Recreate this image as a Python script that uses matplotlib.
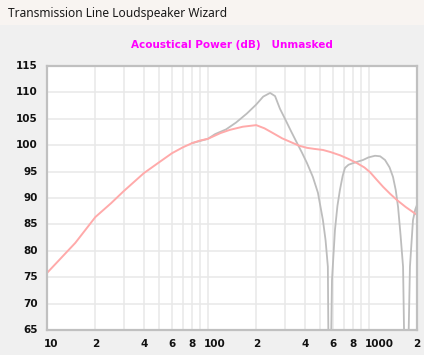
import matplotlib

matplotlib.use("Agg")
import matplotlib.pyplot as plt
import matplotlib.transforms as mtransforms
from matplotlib.patches import Rectangle

# Acoustical power (Hz, dB)
freq_total = [10, 15, 20, 25, 30, 40, 50, 60, 70, 80, 90, 100, 120, 137, 165,
              200, 225, 254, 290, 339, 370, 414, 460, 520, 580, 663, 750, 847,
              940, 1020, 1120, 1232, 1360, 1503, 1700, 2000]
spl_total = [75.8, 81.5, 86.4, 89.0, 91.3, 94.7, 96.8, 98.5, 99.6, 100.4, 100.9,
             101.2, 102.3, 102.9, 103.5, 103.8, 103.2, 102.3, 101.3, 100.4, 99.9,
             99.5, 99.3, 99.1, 98.7, 98.1, 97.4, 96.6, 95.8, 94.9, 93.5, 92.1,
             90.8, 89.6, 88.3, 86.8]

freq_line = [80, 100, 111, 130, 150, 175, 200, 221, 244, 262, 281, 302, 330,
             359, 385, 414, 450, 484, 520, 540, 558, 570, 592, 618, 640, 663,
             690, 713, 750, 800, 860, 923, 1000, 1097, 1180, 1265, 1350, 1418,
             1475, 1525, 1580, 1638, 1710, 1808, 1888, 1950, 2000]
spl_line = [100.4, 101.2, 102.1, 103.0, 104.3, 106.0, 107.7, 109.2, 109.9, 109.3,
            106.9, 105.0, 102.6, 100.4, 98.6, 96.6, 94.0, 91.0, 85.8, 82.0, 77.0,
            40.0, 74.5, 84.0, 88.5, 91.5, 94.2, 95.7, 96.3, 96.6, 96.9, 97.2,
            97.7, 98.0, 97.9, 97.2, 95.8, 94.0, 91.5, 88.3, 83.0, 77.0, 40.0,
            77.0, 85.8, 87.8, 88.7]

x_ticks = [10, 20, 40, 60, 80, 100, 200, 400, 600, 800, 1000, 2000]
x_labels = ["10", "2", "4", "6", "8", "100", "2", "4", "6", "8", "1000", "2"]
y_ticks = list(range(65, 116, 5))

W, H = 424, 355
fig = plt.figure(figsize=(W / 100, H / 100), dpi=100)
fig.patch.set_facecolor("#f0f0f0")

# window title bar
fig.patches.append(Rectangle((0, 1 - 25 / H), 1, 25 / H, transform=fig.transFigure,
                             facecolor="#f8f4f1", edgecolor="none", zorder=0))
fig.text(8 / W, 1 - 14 / H, "Transmission Line Loudspeaker Wizard",
         fontsize=8.6, family="Noto Sans", color="#1a1a1a", va="center", ha="left")
fig.text(232 / W, 1 - 45.5 / H, "Acoustical Power (dB)   Unmasked",
         fontsize=7.5, fontweight="bold", color="#ff00ff", ha="center", va="center")

ax = fig.add_axes([47 / W, 1 - 330 / H, 370 / W, 264 / H])
ax.set_facecolor("white")
ax.set_xscale("log")
ax.set_xlim(10, 2000)
ax.set_ylim(65, 115)

minor = [f * d for d in (10, 100, 1000) for f in range(1, 10) if 10 <= f * d <= 2000]
for f in minor:
    ax.axvline(f, color="#e8e8e8", lw=1.1, zorder=1)
for y in y_ticks:
    ax.axhline(y, color="#e8e8e8", lw=1.1, zorder=1)

ax.plot(freq_line, spl_line, color="#bdbdbd", lw=1.3, zorder=3)
ax.plot(freq_total, spl_total, color="#ffaaaa", lw=1.4, zorder=4)

for s in ax.spines.values():
    s.set_color("#c0c0c0")
    s.set_linewidth(1.6)
    s.set_zorder(5)

ax.set_xticks([])
ax.set_yticks([])
ax.minorticks_off()

# tick labels: first digit sits on the grid line
off = mtransforms.ScaledTranslation(-3.5 / 100, -14 / 100, fig.dpi_scale_trans)
for f, lab in zip(x_ticks, x_labels):
    ax.text(f, 0, lab, transform=mtransforms.blended_transform_factory(ax.transData, ax.transAxes) + off,
            ha="left", va="center", fontsize=7.5, fontweight="bold", color="#111111")
offy = mtransforms.ScaledTranslation(-9 / 100, 0, fig.dpi_scale_trans)
for y in y_ticks:
    ax.text(0, y, str(y), transform=mtransforms.blended_transform_factory(ax.transAxes, ax.transData) + offy,
            ha="right", va="center", fontsize=7.5, fontweight="bold", color="#111111")

fig.savefig("out.png", dpi=100, facecolor=fig.get_facecolor())
